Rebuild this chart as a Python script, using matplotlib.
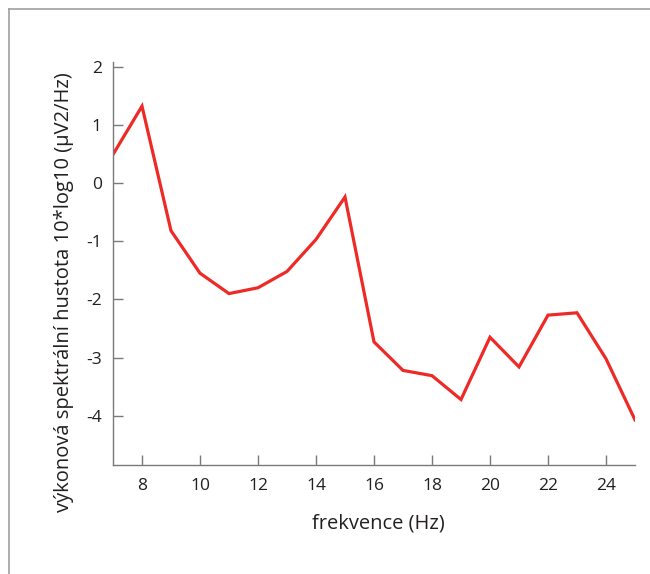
import matplotlib
matplotlib.use("Agg")
import matplotlib.pyplot as plt
from matplotlib.lines import Line2D

freq = [7, 8, 9, 10, 11, 12, 13, 14, 15, 16, 17, 18, 19, 20, 21, 22, 23, 24, 25]
power = [0.49, 1.32, -0.82, -1.55, -1.90, -1.80, -1.52, -0.97, -0.24, -2.73,
         -3.22, -3.31, -3.72, -2.65, -3.16, -2.27, -2.23, -3.02, -4.07]
xticks = [8, 10, 12, 14, 16, 18, 20, 22, 24]
yticks = [2, 1, 0, -1, -2, -3, -4]
ytick_labels = ["2", "1", "0", "-1", "-2", "-3", "-4"]

plt.rcParams['font.family'] = ['Open Sans', 'DejaVu Sans']

W, H = 650, 574
fig = plt.figure(figsize=(W / 100, H / 100), dpi=100)
ax = fig.add_axes([113 / W, 1 - 465.3 / H, (635 - 113) / W, (465.3 - 62.5) / H])

ax.plot(freq, power, color='#ee2a26', lw=2.3, solid_joinstyle='miter')
ax.set_xlim(7, 25)
ax.set_ylim(-4.85, 2.07)
ax.set_xticks(xticks)
ax.set_yticks(yticks)
ax.set_yticklabels(ytick_labels)

gray = '#7a7a7a'
for s in ['top', 'right']:
    ax.spines[s].set_visible(False)
for s in ['left', 'bottom']:
    ax.spines[s].set_color(gray)
    ax.spines[s].set_linewidth(1.0)
ax.tick_params(axis='both', direction='in', length=7.5, width=1.0, color=gray,
               labelsize=12.5, labelcolor='#231f20')
ax.tick_params(axis='x', pad=9)
ax.tick_params(axis='y', pad=8)

fig.text(378 / W, 1 - 523 / H, 'frekvence (Hz)', ha='center', va='center',
         fontsize=14.5, color='#231f20')
fig.text(64 / W, 1 - 292 / H, 'výkonová spektrální hustota 10*log10 (μV2/Hz)',
         rotation=90, ha='center', va='center', fontsize=14.5, color='#231f20')

# frame lines
fig.add_artist(Line2D([9 / W, 1], [1 - 9 / H, 1 - 9 / H], color='#a0a0a0', lw=1.2,
                      transform=fig.transFigure))
fig.add_artist(Line2D([9 / W, 9 / W], [0, 1 - 9 / H], color='#a0a0a0', lw=1.2,
                      transform=fig.transFigure))

fig.savefig('out.png', dpi=100)
